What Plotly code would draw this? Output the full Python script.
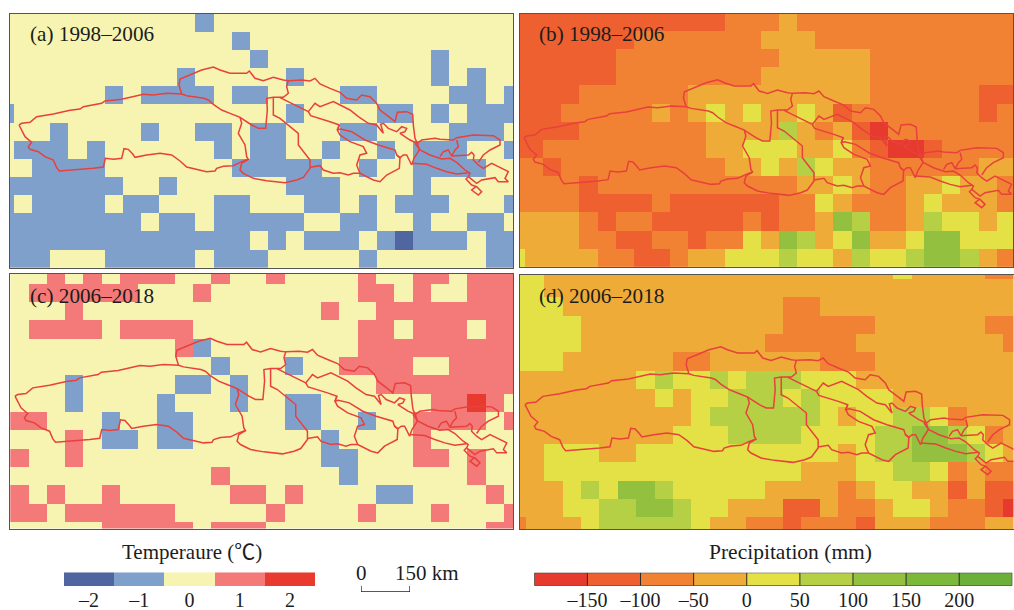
import plotly.graph_objects as go

W, H = 1014, 610

# Gridded change classes, one digit per cell, rows from north to south.
# Temperature digit d means a change of d-2 degC.
TEMP_A = [
 "22222 22222 21222 22222 22222 2222",
 "22222 22222 22212 22222 22222 2222",
 "22222 22222 22221 22222 22221 2222",
 "22222 22222 12222 21222 22221 2122",
 "22222 21211 11211 22221 12222 1121",
 "12222 22222 22222 21222 21121 2111",
 "22212 22212 21121 12221 12222 1112",
 "21112 12222 22121 12212 21211 1221",
 "22111 12222 22211 11122 12211 1122",
 "11111 11221 22222 21112 22212 2222",
 "12111 12112 22112 22112 12111 2221",
 "11111 11121 12111 11221 12212 2112",
 "11111 11111 11112 12111 21011 1211",
 "11122 21111 12111 22222 12222 2211",
]
TEMP_C = [
 "22323 23332 23223 22223 22332 333",
 "23333 33222 32222 22223 32322 333",
 "22232 22222 22222 22322 33333 333",
 "23333 23333 22222 22223 32333 233",
 "22222 22223 12222 22223 33333 333",
 "22222 22222 21222 12233 33223 333",
 "22212 22221 12122 22222 33333 333",
 "22212 22212 22122 11222 22233 432",
 "33222 12211 22222 11221 22333 323",
 "22232 11211 22222 22122 22322 222",
 "32232 22222 22222 22112 22332 322",
 "22222 22222 23222 22212 22222 322",
 "32322 32222 22332 32222 11222 232",
 "33233 33332 22223 22223 22232 223",
 "22222 33333 23332 22222 22222 233",
]
# Precipitation digit d means the class from -200+50d to -150+50d mm.
PREC_B = [
 "11111 11111 11222 32222 22222 222",
 "11111 11222 22223 33222 22222 222",
 "11111 12222 22222 33333 22222 222",
 "11111 12222 22223 33333 22222 222",
 "11112 22222 33333 33333 22222 211",
 "11122 22232 34343 34312 22222 212",
 "11112 22222 23333 53231 02222 222",
 "11222 22222 23344 43342 10012 222",
 "22122 22222 22334 35433 22222 233",
 "22221 22222 22222 23343 22334 332",
 "22221 11121 11111 22432 22343 332",
 "33332 12211 11121 22365 22354 434",
 "33332 21122 12243 65346 33466 444",
 "43333 22112 33444 54435 44566 532",
]
PREC_D = [
 "44333 33333 33333 33333 34333 322",
 "44333 33333 33333 33333 33333 333",
 "44433 33333 33333 22333 33333 333",
 "44443 33333 33333 22222 33333 322",
 "44443 33333 33332 22223 33333 332",
 "44433 33332 23333 33222 33333 333",
 "33333 33454 45455 54443 33333 333",
 "33333 33343 44555 45444 43333 333",
 "33333 33333 45555 55434 45542 333",
 "33333 33334 44555 54444 55665 423",
 "33444 33444 44444 44434 55666 543",
 "33444 44444 44444 43334 45542 322",
 "33345 46654 44443 33323 44331 311",
 "33344 55665 44333 11322 34432 210",
 "23334 55555 43322 12221 33322 233",
]

# Basin outlines, in km on the map sheet.
OUT_WEST = [(57,360),(65,355),(90,352),(100,343),(110,335),(160,327),(210,316),(240,312),(250,305),(305,295),(315,288),(365,283),(420,270),(430,268),(460,270),(500,265),(545,267),(560,272),(612,280),(625,285),(640,298),(665,315),(690,325),(720,337),(725,355),(715,385),(735,420),(740,455),(745,463),(725,470),(700,482),(670,484),(650,490),(645,498),(620,500),(590,492),(560,486),(540,468),(515,450),(480,445),(440,450),(405,457),(398,447),(385,433),(372,431),(365,460),(340,463),(316,460),(310,486),(280,490),(220,495),(178,498),(170,488),(160,465),(135,455),(115,440),(90,433),(85,425),(95,412),(75,395),(57,360)]
OUT_NORTH = [(545,267),(537,240),(540,222),(575,208),(605,195),(640,186),(660,195),(690,205),(740,205),(748,198),(765,220),(790,227),(820,217),(850,225),(865,227),(905,225),(930,228),(945,220),(960,237),(990,250),(1020,262),(1040,280),(1070,285),(1085,270),(1110,275),(1130,295),(1140,315),(1170,338),(1185,350),(1192,322),(1220,320),(1238,328),(1240,360),(1245,400),(1252,415),(1265,405),(1305,400),(1320,403),(1360,405),(1370,398),(1420,390),(1480,392),(1500,405),(1500,420),(1470,435),(1450,450),(1435,472)]
OUT_EAST = [(1355,453),(1405,450),(1415,442),(1422,450),(1420,465),(1435,480),(1450,490),(1475,475),(1495,485),(1525,500),(1515,520),(1525,530),(1495,530),(1485,518),(1445,525),(1430,535),(1405,515)]
OUT_INTERNAL = [(1370,405),(1375,425),(1365,435),(1355,453),(1345,435),(1330,440),(1320,455)]
OUT_STRIP_TOP = [(1245,415),(1260,435),(1290,450),(1325,462),(1350,460),(1370,472),(1395,495),(1410,505),(1405,515),(1398,522),(1415,540),(1430,545),(1445,560),(1435,570),(1415,555),(1428,545)]
OUT_STRIP_BOTTOM = [(1235,475),(1280,478),(1310,490),(1340,500),(1370,507),(1405,503)]
OUT_NECK = [(1252,415),(1258,435),(1242,460),(1235,480)]
OUT_MIDLINE = [(865,227),(860,245),(865,265),(850,277),(820,277),(800,280),(802,315),(797,370),(775,370),(755,360),(720,337)]
OUT_BRANCH = [(745,463),(725,475),(720,495),(730,505),(760,520),(800,527),(855,533),(890,525),(910,517),(930,490),(930,465),(915,445),(895,420),(895,385),(860,355),(840,340),(820,330),(820,277)]
OUT_SOUTH = [(930,487),(960,482),(970,495),(1000,505),(1020,503),(1045,510),(1060,505),(1080,505),(1120,525),(1140,530),(1160,510),(1198,490),(1200,458),(1190,450)]
OUT_INNER = [(1018,360),(1012,375),(1020,390),(1050,410),(1090,425),(1100,445),(1080,450),(1070,480),(1080,505)]
OUT_CENTRE = [(840,278),(865,290),(925,320),(945,295),(960,305),(1000,290),(1020,300),(1050,315),(1075,335),(1105,355),(1130,360),(1150,385),(1142,358),(1150,355),(1165,370),(1190,380),(1205,365),(1220,370),(1215,380),(1200,385),(1230,405),(1252,415)]
OUT_LOWER = [(925,320),(932,332),(990,350),(1018,360),(1012,375),(1022,372),(1055,380),(1095,405),(1135,420),(1185,435),(1190,450),(1200,458),(1210,450),(1220,450),(1235,480)]
OUTLINES = [OUT_WEST, OUT_NORTH, OUT_EAST, OUT_INTERNAL, OUT_STRIP_TOP, OUT_STRIP_BOTTOM, OUT_NECK,
            OUT_MIDLINE, OUT_BRANCH, OUT_SOUTH, OUT_INNER, OUT_CENTRE, OUT_LOWER]

TEMP_COLORS = ["#4F66A0", "#80A0CC", "#F6F4B0", "#F37A78", "#E93A30"]
PREC_COLORS = ["#E63A2E", "#EE6030", "#F28233", "#EEAB38", "#E3E145",
               "#B5D044", "#93C13F", "#7CB83A", "#6CB03A"]
TEMP_TICKS = [-2, -1, 0, 1, 2]
PREC_TICKS = [-150, -100, -50, 0, 50, 100, 150, 200]
TICK_DASH = "\u2013"
TEXT = "#1c1c1c"
FONT = "Liberation Serif, Noto Sans CJK SC"
OUTLINE_COLOR = "#E8403C"
BORDER = "#56544c"
KEY_LINE = "#2a2a2a"


def stepped(colors):
    n = len(colors)
    out = []
    for i, c in enumerate(colors):
        out += [[i / n, c], [(i + 1) / n, c]]
    return out


def decode(rows, base, step):
    return [[base + step * int(c) for c in r.replace(" ", "")] for r in rows]


PANELS = [
    dict(name="", rows=TEMP_A, kind="t", box=(10, 513, 14, 268), cell=(-4.15, 18.15, 13.7, 18.15),
         map=(0, 1.0, 5), label="(a) 1998\u20132006", lab=(30, 34)),
    dict(name="2", rows=PREC_B, kind="p", box=(519.5, 1013, 13.7, 267.3), cell=(506.87, 18.13, 12.87, 18.13),
         map=(505.07, 0.9965, 17.7), label="(b) 1998\u20132006", lab=(539, 34)),
    dict(name="3", rows=TEMP_C, kind="t", box=(10, 513, 274, 528.5), cell=(10.3, 18.3, 265.4, 18.31),
         map=(-4.1, 1.005, 276.2), label="(c) 2006\u20132018", lab=(30, 296)),
    dict(name="4", rows=PREC_D, kind="p", box=(519.5, 1013.5, 274.5, 529), cell=(507.65, 18.35, 260.5, 18.3),
         map=(505.86, 1.0074, 284.7), label="(d) 2006\u20132018", lab=(539, 296)),
]

fig = go.Figure()
layout = {}
notes = []


def px_x(x):
    return x / W


def px_y(y):
    return 1 - y / H


def domain_axes(name, box):
    x0, x1, y0, y1 = box
    return (dict(domain=[px_x(x0), px_x(x1)], anchor="y" + name, fixedrange=True, automargin=False),
            dict(domain=[px_y(y1), px_y(y0)], anchor="x" + name, fixedrange=True, automargin=False))


def note(text, x, y, size, xanchor="center"):
    notes.append(dict(text=text, x=px_x(x), y=px_y(y), xref="paper", yref="paper", showarrow=False,
                      xanchor=xanchor, yanchor="middle", font=dict(family=FONT, size=size, color=TEXT)))


for p in PANELS:
    tx, sx, ty = p["map"]
    kmx = lambda v: (v - tx) * 3 / sx
    kmy = lambda v: (v - ty) * 3
    x0, x1, y0, y1 = p["box"]
    cx, cw, cy, ch = p["cell"]
    if p["kind"] == "t":
        z, zmin, zmax, cs = decode(p["rows"], -2, 1), -2.5, 2.5, stepped(TEMP_COLORS)
    else:
        z, zmin, zmax, cs = decode(p["rows"], -175, 50), -200, 250, stepped(PREC_COLORS)
    xa, ya = domain_axes(p["name"], p["box"])
    xa.update(range=[kmx(x0), kmx(x1)], showticklabels=False, ticks="", showgrid=False, zeroline=False,
              showline=True, mirror=True, linecolor=BORDER, linewidth=1)
    ya.update(range=[kmy(y1), kmy(y0)], showticklabels=False, ticks="", showgrid=False, zeroline=False,
              showline=True, mirror=True, linecolor=BORDER, linewidth=1)
    layout["xaxis" + p["name"]] = xa
    layout["yaxis" + p["name"]] = ya
    ref = dict(xaxis="x" + p["name"], yaxis="y" + p["name"])
    fig.add_trace(go.Heatmap(z=z, x0=kmx(cx + cw / 2), dx=cw * 3 / sx, y0=kmy(cy + ch / 2), dy=ch * 3,
                             zmin=zmin, zmax=zmax, colorscale=cs, showscale=False, hoverinfo="skip", **ref))
    for seg in OUTLINES:
        fig.add_trace(go.Scatter(x=[a for a, _ in seg], y=[b for _, b in seg], mode="lines",
                                 line=dict(color=OUTLINE_COLOR, width=1.5), hoverinfo="skip",
                                 showlegend=False, **ref))
    note(p["label"], p["lab"][0] - 2, p["lab"][1], 21.2, "left")

# Temperature key
xa, ya = domain_axes("5", (64, 315, 572.3, 586))
xa.update(range=[-2.5, 2.5], tickvals=TEMP_TICKS,
          ticktext=[(TICK_DASH + str(-v)) if v < 0 else str(v) for v in TEMP_TICKS],
          tickfont=dict(family=FONT, size=20, color=TEXT), ticks="", showgrid=False, zeroline=False,
          ticklabelstandoff=0)
ya.update(range=[0, 1], visible=False)
layout["xaxis5"], layout["yaxis5"] = xa, ya
fig.add_trace(go.Heatmap(z=[TEMP_TICKS], x=TEMP_TICKS, y=[0.5], dy=1, zmin=-2.5, zmax=2.5,
                         colorscale=stepped(TEMP_COLORS), showscale=False, hoverinfo="skip",
                         xaxis="x5", yaxis="y5"))

# Precipitation key
xa, ya = domain_axes("6", (534.3, 1012.3, 572.7, 585.7))
xa.update(range=[-200, 250], tickvals=PREC_TICKS,
          ticktext=[(TICK_DASH + str(-v)) if v < 0 else str(v) for v in PREC_TICKS],
          tickfont=dict(family=FONT, size=20, color=TEXT), ticks="", showgrid=False, zeroline=False,
          ticklabelstandoff=0)
ya.update(range=[0, 1], visible=False)
layout["xaxis6"], layout["yaxis6"] = xa, ya
PREC_KEY_MIDS = [v - 25 for v in PREC_TICKS] + [225]
fig.add_trace(go.Heatmap(z=[PREC_KEY_MIDS], x=PREC_KEY_MIDS, y=[0.5], dy=1, zmin=-200, zmax=250,
                         colorscale=stepped(PREC_COLORS), showscale=False, hoverinfo="skip",
                         xaxis="x6", yaxis="y6"))
key_x, key_y = [-200, 250, 250, -200, -200], [0, 0, 1, 1, 0]
for v in PREC_TICKS:
    key_x += [None, v, v]
    key_y += [None, 0, 1]
fig.add_trace(go.Scatter(x=key_x, y=key_y, mode="lines", line=dict(color=KEY_LINE, width=1),
                         cliponaxis=False, hoverinfo="skip", showlegend=False, xaxis="x6", yaxis="y6"))

# Scale bar, 150 km long
SCALE_KM = [0, 0, 150, 150]
SCALE_TICK = [1, 0, 0, 1]
xa, ya = domain_axes("7", (361, 410, 585.7, 592))
xa.update(range=[0, 150], visible=False)
ya.update(range=[0, 1], visible=False)
layout["xaxis7"], layout["yaxis7"] = xa, ya
fig.add_trace(go.Scatter(x=SCALE_KM, y=SCALE_TICK, mode="lines", line=dict(color="#222222", width=1.3),
                         cliponaxis=False, hoverinfo="skip", showlegend=False, xaxis="x7", yaxis="y7"))

note("Temperaure (\u2103)", 191.5, 551.5, 21)
note("Precipitation (mm)", 790.5, 551.5, 21.5)
note("0", 361, 573, 21)
note("150 km", 392.5, 573, 21, "left")

fig.update_layout(width=W, height=H, margin=dict(l=0, r=0, t=0, b=0, pad=0), paper_bgcolor="white",
                  plot_bgcolor="white", showlegend=False, annotations=notes, **layout)
fig.write_html("out.html", config=dict(displayModeBar=False, staticPlot=True),
               post_script="document.body.style.margin='0';document.body.style.overflow='hidden';")
